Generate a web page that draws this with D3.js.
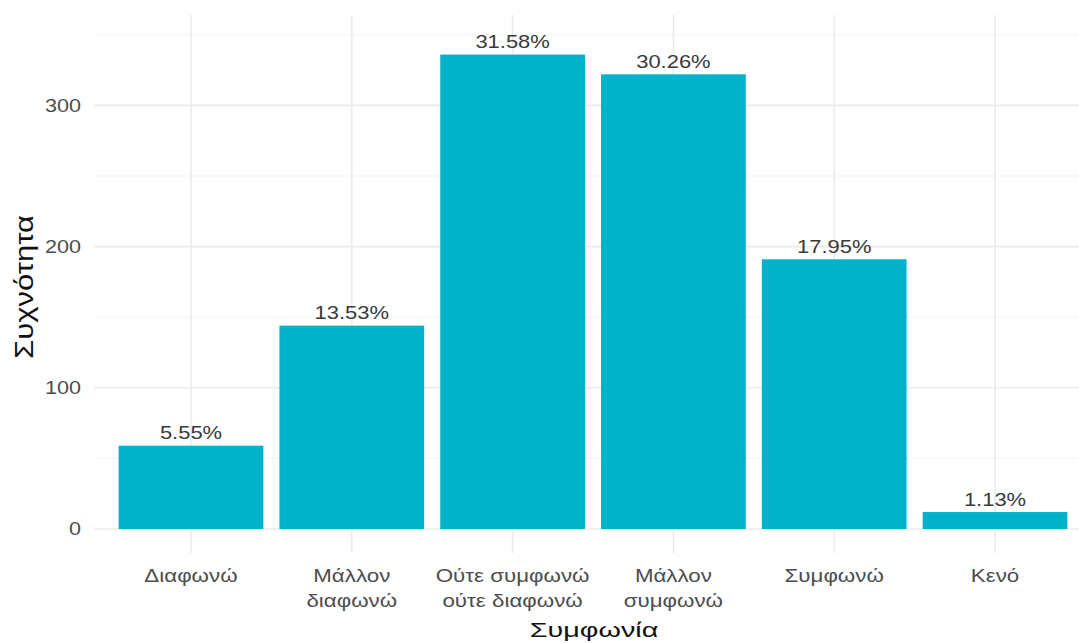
<!DOCTYPE html>
<html><head><meta charset="utf-8">
<script src="https://cdn.jsdelivr.net/npm/d3@7"></script>
<style>
body{margin:0;background:#fff;}
svg{display:block;font-family:"Liberation Sans",Arial,sans-serif;}
</style></head>
<body>
<svg id="chart" width="1079" height="643"></svg>
<script>
const categories = ["Διαφωνώ","Μάλλον διαφωνώ","Ούτε συμφωνώ ούτε διαφωνώ","Μάλλον συμφωνώ","Συμφωνώ","Κενό"];
const categoryLines = [["Διαφωνώ"],["Μάλλον","διαφωνώ"],["Ούτε συμφωνώ","ούτε διαφωνώ"],["Μάλλον","συμφωνώ"],["Συμφωνώ"],["Κενό"]];
const counts = [59,144,336,322,191,12];
const percentLabels = ["5.55%","13.53%","31.58%","30.26%","17.95%","1.13%"];
const yMajorTicks = [0,100,200,300];
const yMinorTicks = [50,150,250,350];

const svg = d3.select("#chart");
const panel = {left:94.5, right:1091.5, top:15, bottom:553};
const FONT = "Liberation Sans, Arial, sans-serif";

const x = d3.scaleBand().domain(categories).range([panel.left, panel.right])
  .paddingInner(0.1).paddingOuter(0.15);
const y = d3.scaleLinear().domain([-17, 364]).range([panel.bottom, panel.top]);

const grid = svg.append("g");
grid.selectAll("line.minor").data(yMinorTicks).join("line")
  .attr("x1", panel.left).attr("x2", 1079)
  .attr("y1", d=>y(d)).attr("y2", d=>y(d))
  .attr("stroke","#f3f3f3").attr("stroke-width",1);
grid.selectAll("line.majy").data(yMajorTicks).join("line")
  .attr("x1", panel.left).attr("x2", 1079)
  .attr("y1", d=>y(d)).attr("y2", d=>y(d))
  .attr("stroke","#ebebeb").attr("stroke-width",1.6);
grid.selectAll("line.majx").data(categories).join("line")
  .attr("x1", d=>x(d)+x.bandwidth()/2).attr("x2", d=>x(d)+x.bandwidth()/2)
  .attr("y1", panel.top).attr("y2", panel.bottom)
  .attr("stroke","#ebebeb").attr("stroke-width",1.6);

svg.append("g").selectAll("rect").data(categories).join("rect")
  .attr("x", d=>x(d)).attr("width", x.bandwidth())
  .attr("y", (d,i)=>y(counts[i])).attr("height", (d,i)=>y(0)-y(counts[i]))
  .attr("fill","#00B2CA");

svg.append("g").selectAll("text").data(categories).join("text")
  .attr("transform", (d,i)=>`translate(${x(d)+x.bandwidth()/2},${y(counts[i])-6.5}) scale(1.22,1)`)
  .attr("text-anchor","middle").attr("font-size",18).attr("fill","#3a3a3a")
  .text((d,i)=>percentLabels[i]);

// y axis
const yAxis = svg.append("g").attr("transform",`translate(${panel.left},0)`)
  .call(d3.axisLeft(y).tickValues(yMajorTicks).tickSize(0));
yAxis.select(".domain").remove();
yAxis.selectAll("text").attr("x",0).attr("transform","translate(-13.5,0) scale(1.2,1)")
  .attr("font-size",18).attr("fill","#4d4d4d").attr("font-family",FONT);

// x axis
const xAxis = svg.append("g").attr("transform",`translate(0,${panel.bottom})`)
  .call(d3.axisBottom(x).tickSize(0).tickFormat(""));
xAxis.select(".domain").remove();
xAxis.selectAll(".tick").each(function(d,i){
  const t = d3.select(this).append("text")
    .attr("transform","scale(1.24,1)")
    .attr("text-anchor","middle").attr("fill","#4d4d4d").attr("font-size",18)
    .attr("font-family",FONT);
  categoryLines[i].forEach((ln,j)=>{
    t.append("tspan").attr("x",0).attr("y",29+j*25).text(ln);
  });
});

svg.append("text")
  .attr("transform",`translate(${(panel.left+panel.right)/2+1},637) scale(1.37,1)`)
  .attr("text-anchor","middle").attr("font-size",21).attr("fill","#111")
  .text("Συμφωνία");
svg.append("text").attr("transform",`translate(33,287) rotate(-90) scale(1.24,1)`)
  .attr("text-anchor","middle").attr("font-size",25).attr("fill","#111")
  .text("Συχνότητα");
</script>
</body></html>
